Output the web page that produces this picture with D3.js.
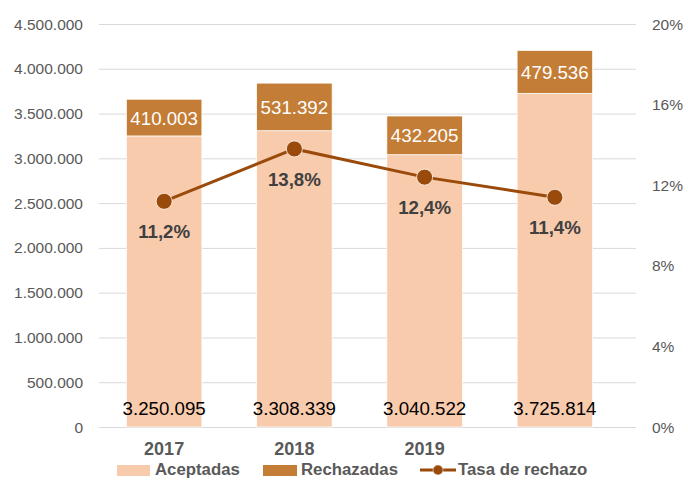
<!DOCTYPE html>
<html>
  <meta charset="utf-8">
  <head>
    <script src="https://d3js.org/d3.v7.min.js"></script>
    <style>
      body { margin: 0; background: #fff; }
      text { font-family: "Liberation Sans", Arial, sans-serif; }
    </style>
  </head>
  <body>
    <div id="viz"></div>

    <script type="text/javascript">
      // data
      var years = ["2017", "2018", "2019", ""];
      var aceptadas = [3250095, 3308339, 3040522, 3725814];
      var rechazadas = [410003, 531392, 432205, 479536];
      var tasa = [0.112, 0.138, 0.124, 0.114];
      var leftTicks = [0, 500000, 1000000, 1500000, 2000000, 2500000, 3000000, 3500000, 4000000, 4500000];
      var rightTicks = [0, 0.04, 0.08, 0.12, 0.16, 0.20];

      var width = 688, height = 480;
      var plotLeft = 99, plotRight = 636, plotTop = 24, plotBottom = 427;

      var fmtNum = function (v) {
        return String(v).replace(/\B(?=(\d{3})+(?!\d))/g, ".");
      };
      var fmtPct = function (v) { return (v * 100).toFixed(1).replace(".", ",") + "%"; };

      var svg = d3.select("#viz")
        .append("svg")
          .attr("width", width)
          .attr("height", height);

      var x = d3.scaleBand()
        .domain(d3.range(years.length))
        .range([plotLeft, 620])
        .paddingInner(0.42)
        .paddingOuter(0.21);

      var y = d3.scaleLinear()
        .domain([0, 4500000])
        .range([plotBottom, plotTop]);

      var y2 = d3.scaleLinear()
        .domain([0, 0.20])
        .range([plotBottom, plotTop]);

      // gridlines
      svg.append("g")
        .selectAll("line")
        .data(leftTicks)
        .enter()
        .append("line")
          .attr("x1", plotLeft)
          .attr("x2", plotRight)
          .attr("y1", (d) => y(d) + 0.5)
          .attr("y2", (d) => y(d) + 0.5)
          .attr("stroke", "#d9d9d9")
          .attr("stroke-width", 1);

      // left axis labels
      svg.append("g")
        .selectAll("text")
        .data(leftTicks)
        .enter()
        .append("text")
          .attr("x", 83)
          .attr("y", (d) => y(d) + 5.5)
          .attr("text-anchor", "end")
          .attr("font-size", "15.5px")
          .attr("fill", "#595959")
          .text((d) => fmtNum(d));

      // right axis labels
      svg.append("g")
        .selectAll("text")
        .data(rightTicks)
        .enter()
        .append("text")
          .attr("x", 652)
          .attr("y", (d) => y2(d) + 5.5)
          .attr("text-anchor", "start")
          .attr("font-size", "15.5px")
          .attr("fill", "#595959")
          .text((d) => Math.round(d * 100) + "%");

      // bars
      var bars = svg.append("g");
      bars.selectAll(".acep")
        .data(aceptadas)
        .enter()
        .append("rect")
          .attr("x", (d, i) => x(i))
          .attr("y", (d) => y(d))
          .attr("width", x.bandwidth())
          .attr("height", (d) => y(0) - y(d))
          .attr("fill", "#f8cbad")
          .attr("stroke", "#fff")
          .attr("stroke-width", 0.75);

      bars.selectAll(".rech")
        .data(rechazadas)
        .enter()
        .append("rect")
          .attr("x", (d, i) => x(i))
          .attr("y", (d, i) => y(aceptadas[i] + d))
          .attr("width", x.bandwidth())
          .attr("height", (d, i) => y(aceptadas[i]) - y(aceptadas[i] + d))
          .attr("fill", "#c47d36")
          .attr("stroke", "#fff")
          .attr("stroke-width", 0.75);

      // bar labels
      svg.append("g")
        .selectAll("text")
        .data(aceptadas)
        .enter()
        .append("text")
          .attr("x", (d, i) => x(i) + x.bandwidth() / 2)
          .attr("y", 415)
          .attr("text-anchor", "middle")
          .attr("font-size", "18.7px")
          .attr("fill", "#000")
          .text((d) => fmtNum(d));

      svg.append("g")
        .selectAll("text")
        .data(rechazadas)
        .enter()
        .append("text")
          .attr("x", (d, i) => x(i) + x.bandwidth() / 2)
          .attr("y", (d, i) => y(aceptadas[i] + d / 2) + 7)
          .attr("text-anchor", "middle")
          .attr("font-size", "18.7px")
          .attr("fill", "#fff")
          .text((d) => fmtNum(d));

      // rate line
      var cx = (i) => x(i) + x.bandwidth() / 2;
      var line = d3.line()
        .x((d, i) => cx(i))
        .y((d) => y2(d));

      svg.append("path")
        .datum(tasa)
        .attr("d", line)
        .attr("fill", "none")
        .attr("stroke", "#9a4a0a")
        .attr("stroke-width", 3);

      svg.append("g")
        .selectAll("circle")
        .data(tasa)
        .enter()
        .append("circle")
          .attr("cx", (d, i) => cx(i))
          .attr("cy", (d) => y2(d))
          .attr("r", 8)
          .attr("fill", "#9a4a0a")
          .attr("stroke", "#fff")
          .attr("stroke-width", 0.75);

      svg.append("g")
        .selectAll("text")
        .data(tasa)
        .enter()
        .append("text")
          .attr("x", (d, i) => cx(i))
          .attr("y", (d) => y2(d) + 37)
          .attr("text-anchor", "middle")
          .attr("font-size", "18.7px")
          .attr("font-weight", "bold")
          .attr("fill", "#404040")
          .text((d) => fmtPct(d));

      // category labels
      svg.append("g")
        .selectAll("text")
        .data(years)
        .enter()
        .append("text")
          .attr("x", (d, i) => cx(i))
          .attr("y", 455)
          .attr("text-anchor", "middle")
          .attr("font-size", "18px")
          .attr("font-weight", "bold")
          .attr("fill", "#595959")
          .text((d) => d);

      // legend (kept just inside the bottom edge)
      var legend = svg.append("g");
      legend.append("rect")
        .attr("x", 117).attr("y", 465).attr("width", 33).attr("height", 11)
        .attr("fill", "#f8cbad");
      legend.append("text")
        .attr("x", 155).attr("y", 475)
        .attr("font-size", "16.8px").attr("font-weight", "bold").attr("fill", "#595959")
        .text("Aceptadas");
      legend.append("rect")
        .attr("x", 263).attr("y", 465).attr("width", 34).attr("height", 11)
        .attr("fill", "#c47d36");
      legend.append("text")
        .attr("x", 301).attr("y", 475)
        .attr("font-size", "16.8px").attr("font-weight", "bold").attr("fill", "#595959")
        .text("Rechazadas");
      legend.append("line")
        .attr("x1", 420).attr("x2", 456).attr("y1", 470).attr("y2", 470)
        .attr("stroke", "#9a4a0a").attr("stroke-width", 3);
      legend.append("circle")
        .attr("cx", 438).attr("cy", 470).attr("r", 5)
        .attr("fill", "#9a4a0a").attr("stroke", "#fff").attr("stroke-width", 0.5);
      legend.append("text")
        .attr("x", 458).attr("y", 475)
        .attr("font-size", "16.8px").attr("font-weight", "bold").attr("fill", "#595959")
        .text("Tasa de rechazo");
    </script>
  </body>
</html>
